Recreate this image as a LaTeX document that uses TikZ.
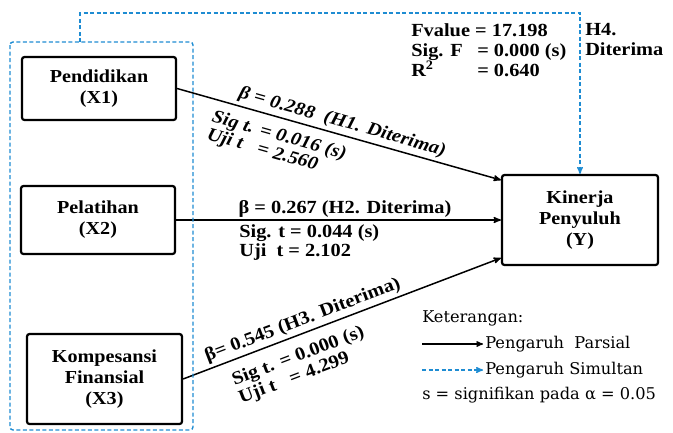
\documentclass[tikz,border=0pt]{standalone}
\usepackage{fontspec}
\setmainfont{Liberation Serif}[FakeStretch=1.1]
\newfontfamily\legfont{DejaVu Serif}
\usetikzlibrary{arrows,calc}
\definecolor{simblue}{RGB}{30,140,210}

\begin{document}
\begin{tikzpicture}[x=1pt,y=-1pt,>=stealth', semithick]
    \tikzstyle{var}=[rectangle, draw, line width=2.2pt, rounded corners=2.5pt, align=center, font=\fontsize{18.3}{21}\selectfont\bfseries]
    \tikzstyle{lab}=[inner sep=2pt, align=left, font=\fontsize{18.5}{19}\selectfont\bfseries]
    \tikzstyle{labit}=[lab, font=\fontsize{18.5}{18.5}\selectfont\bfseries\itshape]
    \tikzstyle{partial}=[->, line width=1.5pt]
    \tikzstyle{simul}=[draw=simblue, dash pattern=on 4pt off 2.5pt, line width=1.4pt]
    \tikzstyle{leg}=[inner sep=0pt, anchor=west, font=\fontsize{16.2}{18}\selectfont\legfont]

    \useasboundingbox (0,0) rectangle (673,432);

    \node[var, minimum width=154, minimum height=63] (x1) at (99,88.5) {Pendidikan\\(X1)};
    \node[var, minimum width=154, minimum height=68] (x2) at (98,220) {Pelatihan\\(X2)};
    \node[var, minimum width=155, minimum height=90] (x3) at (104.5,379) {Kompesansi\\Finansial\\(X3)};
    \node[var, minimum width=156, minimum height=90] (y) at (580,220) {Kinerja\\Penyuluh\\(Y)};

    \draw[partial] (x1.east) --
        node[labit, above, sloped, pos=.5, inner sep=3pt] (b1) {β = 0.288\ \ (H1. Diterima)}
        node[labit, below, sloped, pos=.33, inner sep=9pt] (s1) {Sig t. = 0.016 (s)\\Uji t \ \ = 2.560}
        ([yshift=40pt]y.west);
    \draw[partial] (x2.east) --
        node[lab, above, pos=.52] (b2) {β = 0.267 (H2. Diterima)}
        node[lab, below, pos=.41, inner sep=4pt] (s2) {Sig. t = 0.044 (s)\\Uji\ \ t = 2.102}
        (y.west);
    \draw[partial] (x3.east) --
        node[lab, above, sloped, pos=.39, inner sep=3pt] (b3) {β= 0.545 (H3. Diterima)}
        node[lab, below, sloped, pos=.34, inner sep=11pt] (s3) {Sig t. = 0.000 (s)\\Uji t \ \ = 4.299}
        ([yshift=-38pt]y.west);

    % simultan
    \draw[simul, rounded corners=3pt] (10,42) rectangle (193,430);
    \coordinate (gtop) at (80,42);
    \draw[simul, ->] (gtop) -- (gtop |- 0,13) -| (y.north);

    \node[lab, anchor=north west, font=\fontsize{18.5}{20}\selectfont\bfseries] (stat) at (409,21)
        {Fvalue = 17.198\\\makebox[66pt][l]{Sig. F}= 0.000 (s)\\\makebox[66pt][l]{R\textsuperscript{2}}= 0.640};
    \node[lab, anchor=north west, font=\fontsize{18.5}{20}\selectfont\bfseries] (h4) at (583,21) {H4.\\Diterima};

    % keterangan
    \node[leg] (ket) at (422,318) {Keterangan:};
    \coordinate (pa) at (422,344);
    \node[leg] (lpa) at (485,344) {Pengaruh\ \ Parsial};
    \draw[partial, line width=1.3pt, shorten >=2pt] (pa) -- (lpa.west);
    \coordinate (ps) at (422,370);
    \node[leg] (lps) at (485,370) {Pengaruh Simultan};
    \draw[simul, ->, shorten >=2pt] (ps) -- (lps.west);
    \node[leg] (sig) at (422,395) {s = signifikan pada α = 0.05};

\end{tikzpicture}
\end{document}
